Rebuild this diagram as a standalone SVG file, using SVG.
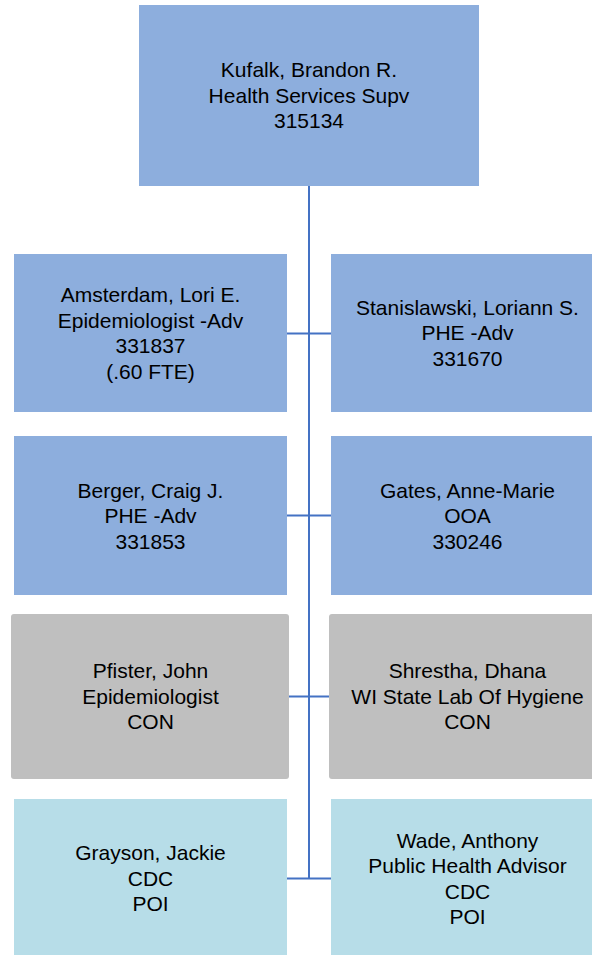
<svg xmlns="http://www.w3.org/2000/svg" width="592" height="955" viewBox="0 0 592 955">
<style>
.b{fill:#8DAEDD}
.g{fill:#BFBFBF}
.c{fill:#B7DDE8}
text{font-family:"Liberation Sans",Arial,sans-serif;font-size:21px;fill:#000;text-anchor:middle}
.ln{stroke:#4472C4;stroke-width:2;fill:none}
</style>
<rect width="592" height="955" fill="#fff"/>
<g id="connectors">
<path class="ln" d="M309 186V878.5M287 333.5H331M287 515.5H331M289 696.5H329M287 878.5H331"/>
</g>
<g id="n-kufalk">
<rect class="b" x="139" y="5" width="340" height="181"/>
<text x="309" y="77">Kufalk, Brandon R.</text>
<text x="309" y="102.5">Health Services Supv</text>
<text x="309" y="128">315134</text>
</g>
<g id="n-amsterdam">
<rect class="b" x="14" y="254" width="273" height="158"/>
<text x="150.5" y="302">Amsterdam, Lori E.</text>
<text x="150.5" y="327.5">Epidemiologist -Adv</text>
<text x="150.5" y="353">331837</text>
<text x="150.5" y="378.5">(.60 FTE)</text>
</g>
<g id="n-stanislawski">
<rect class="b" x="331" y="254" width="273" height="158"/>
<text x="467.5" y="314.5">Stanislawski, Loriann S.</text>
<text x="467.5" y="340">PHE -Adv</text>
<text x="467.5" y="365.5">331670</text>
</g>
<g id="n-berger">
<rect class="b" x="14" y="436" width="273" height="159"/>
<text x="150.5" y="497.5">Berger, Craig J.</text>
<text x="150.5" y="523">PHE -Adv</text>
<text x="150.5" y="548.5">331853</text>
</g>
<g id="n-gates">
<rect class="b" x="331" y="436" width="273" height="159"/>
<text x="467.5" y="497.5">Gates, Anne-Marie</text>
<text x="467.5" y="523">OOA</text>
<text x="467.5" y="548.5">330246</text>
</g>
<g id="n-pfister">
<rect class="g" x="11" y="614" width="278" height="165" rx="3"/>
<text x="150.5" y="678.3">Pfister, John</text>
<text x="150.5" y="703.8">Epidemiologist</text>
<text x="150.5" y="729.3">CON</text>
</g>
<g id="n-shrestha">
<rect class="g" x="329" y="614" width="278" height="165" rx="3"/>
<text x="467.5" y="678.3">Shrestha, Dhana</text>
<text x="467.5" y="703.8">WI State Lab Of Hygiene</text>
<text x="467.5" y="729.3">CON</text>
</g>
<g id="n-grayson">
<rect class="c" x="14" y="799" width="273" height="159"/>
<text x="150.5" y="860.3">Grayson, Jackie</text>
<text x="150.5" y="885.8">CDC</text>
<text x="150.5" y="911.3">POI</text>
</g>
<g id="n-wade">
<rect class="c" x="331" y="799" width="273" height="159"/>
<text x="467.5" y="847.5">Wade, Anthony</text>
<text x="467.5" y="873">Public Health Advisor</text>
<text x="467.5" y="898.5">CDC</text>
<text x="467.5" y="924">POI</text>
</g>
</svg>
